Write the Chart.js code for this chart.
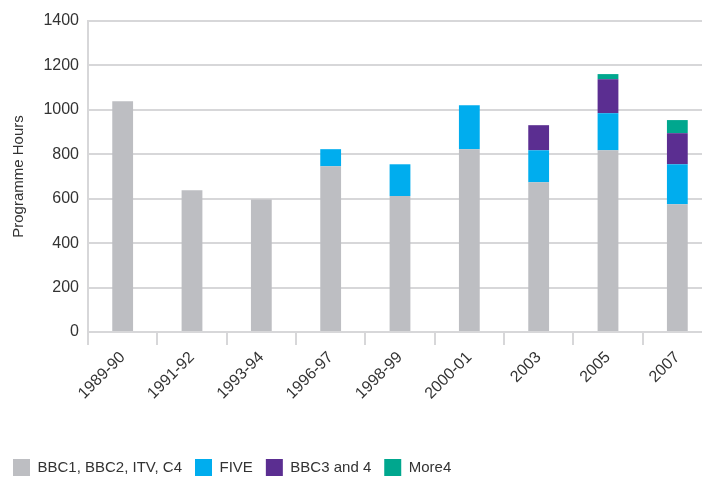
<!DOCTYPE html>
<html>
<head>
<meta charset="utf-8">
<script src="https://cdn.jsdelivr.net/npm/chart.js@4.4.0/dist/chart.umd.min.js"></script>
<style>
    html, body { margin: 0; padding: 0; background: #fff; overflow: hidden; }
    #wrap { width: 702px; height: 479px; overflow: hidden; }
</style>
</head>
<body>
<div id="wrap"><canvas id="chart" width="712" height="486"></canvas></div>
<script>
const periods = ["1989-90", "1991-92", "1993-94", "1996-97", "1998-99", "2000-01", "2003", "2005", "2007"];
const mainChannels = [1039, 638, 597, 746, 612, 823, 674, 818, 575];
const five = [0, 0, 0, 77, 143, 198, 144, 167, 180];
const bbc3and4 = [0, 0, 0, 0, 0, 0, 113, 153, 140];
const more4 = [0, 0, 0, 0, 0, 0, 0, 23, 59];
const yTicks = [0, 200, 400, 600, 800, 1000, 1200, 1400];

const gridGrey = "#d7d7d9";
const textGrey = "#333333";
const fontFamily = "'Liberation Sans', Arial, sans-serif";

const series = [
    { label: "BBC1, BBC2, ITV, C4", data: mainChannels, color: "#bdbec2" },
    { label: "FIVE", data: five, color: "#00adee" },
    { label: "BBC3 and 4", data: bbc3and4, color: "#5b2e91" },
    { label: "More4", data: more4, color: "#00a78e" }
];

const ctx = document.getElementById("chart").getContext("2d");
new Chart(ctx, {
    type: "bar",
    data: {
        labels: periods,
        datasets: series.map(s => ({
            label: s.label,
            data: s.data,
            backgroundColor: s.color,
            borderWidth: 0,
            barPercentage: 0.3,
            categoryPercentage: 1
        }))
    },
    options: {
        responsive: false,
        animation: false,
        layout: { padding: { top: 21, left: 0, right: 0, bottom: 0 } },
        plugins: {
            tooltip: { enabled: false },
            legend: {
                position: "bottom",
                align: "start",
                labels: {
                    boxWidth: 17,
                    boxHeight: 17,
                    padding: 13,
                    color: textGrey,
                    font: { family: fontFamily, size: 15 }
                }
            }
        },
        scales: {
            x: {
                stacked: true,
                z: 1,
                grid: {
                    drawOnChartArea: false,
                    drawTicks: true,
                    tickLength: 13,
                    color: gridGrey,
                    lineWidth: 2
                },
                border: { display: true, color: gridGrey, width: 2 },
                ticks: {
                    autoSkip: false,
                    minRotation: 45,
                    maxRotation: 45,
                    padding: 3,
                    color: textGrey,
                    font: { family: fontFamily, size: 16 }
                },
                afterFit: scale => { scale.height = 114; }
            },
            y: {
                stacked: true,
                min: 0,
                max: 1400,
                afterBuildTicks: scale => {
                    scale.ticks = yTicks.map(v => ({ value: v }));
                },
                grid: {
                    drawTicks: false,
                    color: gridGrey,
                    lineWidth: 2
                },
                border: { display: true, color: gridGrey, width: 2 },
                ticks: {
                    padding: 9,
                    color: textGrey,
                    font: { family: fontFamily, size: 16 },
                    callback: value => String(value)
                },
                title: {
                    display: true,
                    text: "Programme Hours",
                    color: textGrey,
                    padding: { top: 10, bottom: 0 },
                    font: { family: fontFamily, size: 15 }
                },
                afterFit: scale => { scale.width = 88; }
            }
        }
    }
});
</script>
</body>
</html>
